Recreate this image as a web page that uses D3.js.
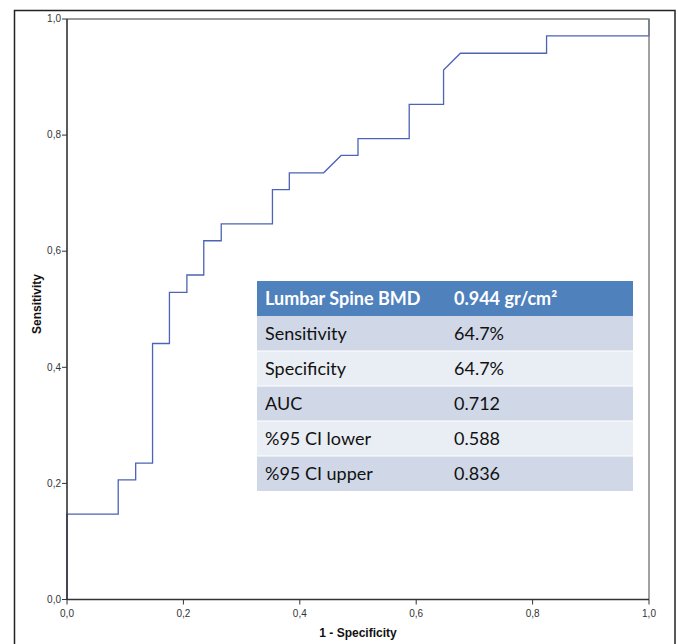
<!DOCTYPE html>
<html>
<head>
<meta charset="utf-8">
<script src="https://cdn.jsdelivr.net/npm/d3@7"></script>
<style>
  html, body { margin: 0; padding: 0; background: #fff; }
  svg { display: block; }
</style>
</head>
<body>
<svg id="chart" width="678" height="644"></svg>
<script>
// ROC curve points (1 - specificity, sensitivity)
const fpr = [0, 0, 0.088, 0.088, 0.118, 0.118, 0.147, 0.147, 0.176, 0.176, 0.206, 0.206,
  0.235, 0.235, 0.265, 0.265, 0.353, 0.353, 0.382, 0.382, 0.441, 0.471, 0.5, 0.5,
  0.588, 0.588, 0.647, 0.647, 0.676, 0.824, 0.824, 1.0, 1.0];
const tpr = [0, 0.147, 0.147, 0.206, 0.206, 0.235, 0.235, 0.441, 0.441, 0.529, 0.529, 0.559,
  0.559, 0.618, 0.618, 0.647, 0.647, 0.706, 0.706, 0.735, 0.735, 0.765, 0.765, 0.794,
  0.794, 0.853, 0.853, 0.912, 0.941, 0.941, 0.971, 0.971, 1.0];

const ticks = [0, 0.2, 0.4, 0.6, 0.8, 1.0];
const tickLabels = ["0,0", "0,2", "0,4", "0,6", "0,8", "1,0"];
const xTitle = "1 - Specificity";
const yTitle = "Sensitivity";

// inset table
const tableHeader = ["Lumbar Spine BMD", "0.944 gr/cm²"];
const tableLabels = ["Sensitivity", "Specificity", "AUC", "%95 CI lower", "%95 CI upper"];
const tableValues = ["64.7%", "64.7%", "0.712", "0.588", "0.836"];

const svg = d3.select("#chart");

// outer frame
svg.append("rect")
  .attr("x", 14.5).attr("y", 10.5).attr("width", 660.5).attr("height", 650)
  .attr("fill", "none").attr("stroke", "#222").attr("stroke-width", 1.5);

const x = d3.scaleLinear().domain([0, 1]).range([67, 649]);
const y = d3.scaleLinear().domain([0, 1]).range([599.5, 19]);

// ROC curve (drawn first so the frame covers its segments on the borders)
const pts = fpr.map((f, i) => [f, tpr[i]]);
svg.append("path")
  .datum(pts)
  .attr("d", d3.line().x(d => x(d[0])).y(d => y(d[1])))
  .attr("fill", "none").attr("stroke", "#4c63b6").attr("stroke-width", 1.3);

// plot box (top/right)
svg.append("path")
  .attr("d", `M${x(0)},${y(1)}H${x(1)}V${y(0)}`)
  .attr("fill", "none").attr("stroke", "#7a7a7a").attr("stroke-width", 1.4);

const fmt = d => tickLabels[ticks.findIndex(t => Math.abs(t - d) < 1e-9)];

const xAxis = svg.append("g")
  .attr("transform", `translate(0,${y(0)})`)
  .call(d3.axisBottom(x).tickValues(ticks).tickFormat(fmt).tickSize(5).tickSizeOuter(0).offset(0));
const yAxis = svg.append("g")
  .attr("transform", `translate(${x(0)},0)`)
  .call(d3.axisLeft(y).tickValues(ticks).tickFormat(fmt).tickSize(5).tickSizeOuter(0).offset(0));

[xAxis, yAxis].forEach(g => {
  g.select(".domain").attr("stroke", "#333").attr("stroke-width", 1.6);
  g.selectAll(".tick line").attr("stroke", "#333").attr("stroke-width", 1);
  g.selectAll(".tick text")
    .attr("font-family", "Liberation Sans, Arial, sans-serif")
    .attr("font-size", 10).attr("fill", "#333");
});
xAxis.selectAll(".tick text").attr("dy", "0.9em");
yAxis.selectAll(".tick text").attr("x", -6);

// axis titles
svg.append("text")
  .attr("x", x(0.5)).attr("y", 637)
  .attr("text-anchor", "middle")
  .attr("font-family", "Liberation Sans, Arial, sans-serif")
  .attr("font-weight", "bold").attr("font-size", 12).attr("fill", "#111")
  .text(xTitle);
svg.append("text")
  .attr("transform", `translate(41,304) rotate(-90)`)
  .attr("text-anchor", "middle")
  .attr("font-family", "Liberation Sans, Arial, sans-serif")
  .attr("font-weight", "bold").attr("font-size", 12).attr("fill", "#111")
  .text(yTitle);

// inset table
const tX = 257, tY = 281, tW = 376, col2 = 454;
const headH = 35, rowH = 35;
const fs = 18;
const tbl = svg.append("g");
tbl.append("rect").attr("x", tX).attr("y", tY).attr("width", tW).attr("height", headH)
  .attr("fill", "#4f81bd");
tbl.append("text").attr("x", tX + 8).attr("y", tY + headH / 2 + 6)
  .attr("font-family", "Lato, sans-serif").attr("font-weight", "bold")
  .attr("font-size", fs).attr("fill", "#fff").text(tableHeader[0]);
tbl.append("text").attr("x", col2).attr("y", tY + headH / 2 + 6)
  .attr("font-family", "Lato, sans-serif").attr("font-weight", "bold")
  .attr("font-size", fs).attr("fill", "#fff").text(tableHeader[1]);

tableLabels.forEach((lab, i) => {
  const ry = tY + headH + i * rowH;
  tbl.append("rect").attr("x", tX).attr("y", ry).attr("width", tW).attr("height", rowH)
    .attr("fill", i % 2 === 0 ? "#d0d8e8" : "#e9edf4");
  if (i > 0) {
    tbl.append("line").attr("x1", tX).attr("x2", tX + tW).attr("y1", ry).attr("y2", ry)
      .attr("stroke", "#fff").attr("stroke-width", 1);
  }
  tbl.append("text").attr("x", tX + 8).attr("y", ry + rowH / 2 + 6)
    .attr("font-family", "Lato, sans-serif").attr("font-size", fs).attr("fill", "#111")
    .text(lab);
  tbl.append("text").attr("x", col2).attr("y", ry + rowH / 2 + 6)
    .attr("font-family", "Lato, sans-serif").attr("font-size", fs).attr("fill", "#111")
    .text(tableValues[i]);
});
</script>
</body>
</html>
